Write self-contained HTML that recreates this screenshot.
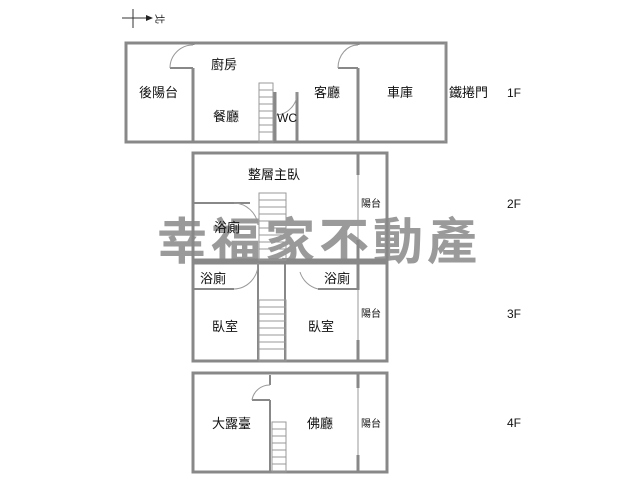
<!DOCTYPE html>
<html><head><meta charset="utf-8"><style>
html,body{margin:0;padding:0;background:#fff;width:640px;height:480px;overflow:hidden}
svg{display:block}
text{font-family:"Liberation Sans","Noto Sans CJK TC",sans-serif;fill:#111}
</style></head><body>
<svg width="640" height="480" viewBox="0 0 640 480">
<text x="157" y="259" font-size="50" font-weight="bold" letter-spacing="4" style="fill:#888;fill-opacity:0.85">幸福家不動產</text>
<g stroke="#888" fill="none" stroke-width="3">
<!-- 1F -->
<rect x="126" y="43" width="320" height="99"/>
<line x1="193" y1="43" x2="193" y2="45"/>
<line x1="193" y1="68" x2="193" y2="142" />
<line x1="358" y1="43" x2="358" y2="45"/>
<line x1="358" y1="68" x2="358" y2="142"/>
<line x1="275" y1="92" x2="275" y2="142"/>
<line x1="297" y1="92" x2="297" y2="142"/>
<line x1="170" y1="68" x2="193" y2="68" stroke-width="2"/>
<line x1="338" y1="68" x2="358" y2="68" stroke-width="2"/>
<!-- 2F -->
<rect x="193" y="153" width="194" height="107"/>
<line x1="193" y1="203" x2="250" y2="203" stroke-width="2"/>
<line x1="358" y1="153" x2="358" y2="175"/>
<line x1="358" y1="240" x2="358" y2="260"/>
<!-- 3F -->
<rect x="193" y="263" width="194" height="98"/>
<line x1="258" y1="263" x2="258" y2="361" stroke-width="2"/>
<line x1="285" y1="263" x2="285" y2="361" stroke-width="2"/>
<line x1="193" y1="289" x2="234" y2="289" stroke-width="2"/>
<line x1="318" y1="289" x2="358" y2="289" stroke-width="2"/>
<line x1="358" y1="263" x2="358" y2="290"/>
<line x1="358" y1="340" x2="358" y2="361"/>
<!-- 4F -->
<rect x="193" y="373" width="194" height="99"/>
<line x1="270" y1="375" x2="270" y2="385" stroke-width="2"/>
<line x1="270" y1="400" x2="270" y2="472" stroke-width="2"/>
<line x1="252" y1="400" x2="270" y2="400" stroke-width="2"/>
<line x1="358" y1="373" x2="358" y2="388"/>
<line x1="358" y1="455" x2="358" y2="472"/>
</g>
<g stroke="#999" fill="none" stroke-width="1">
<line x1="445" y1="43" x2="445" y2="142"/>
<line x1="358" y1="175" x2="358" y2="240"/>
<line x1="358" y1="290" x2="358" y2="340"/>
<line x1="358" y1="388" x2="358" y2="455"/>
<path d="M193 45 A23 23 0 0 0 170 68"/>
<path d="M358 45 A20 23 0 0 0 338 68"/>
<path d="M297 92 A22 22 0 0 1 275 115"/>
<path d="M270 385 A18 18 0 0 0 252 400"/>
<path d="M234 203 A25 25 0 0 1 258 225"/>
<path d="M234 289 A25 25 0 0 0 258 263"/>
<path d="M318 289 A25 25 0 0 1 300 272"/>
<rect x="259" y="83" width="14" height="59"/>
<rect x="259" y="193" width="27" height="67"/>
<rect x="259" y="300" width="27" height="61"/>
<rect x="272" y="422" width="14" height="50"/>
<path d="M259 90h14M259 97h14M259 104h14M259 111h14M259 118h14M259 125h14M259 132h14"/>
<path d="M259 200h27M259 207h27M259 214h27M259 221h27M259 228h27M259 235h27M259 242h27M259 249h27"/>
<path d="M259 307h27M259 314h27M259 321h27M259 328h27M259 335h27M259 342h27M259 349h27"/>
<path d="M272 429h14M272 436h14M272 443h14M272 450h14M272 457h14M272 464h14"/>
</g>
<g stroke="#333" stroke-width="1"><line x1="122" y1="18" x2="152" y2="18"/><line x1="133" y1="9" x2="133" y2="28"/></g>
<polygon points="146,15 153,18 146,21" fill="#222"/>
<text x="156" y="22" font-size="10" transform="rotate(90 160 18)">北</text>
<g font-size="13">
<text x="139" y="97">後陽台</text>
<text x="211" y="69">廚房</text>
<text x="213" y="121">餐廳</text>
<text x="277" y="122" font-size="12">WC</text>
<text x="314" y="97">客廳</text>
<text x="387" y="97">車庫</text>
<text x="449" y="97">鐵捲門</text>
<text x="248" y="179">整層主臥</text>
<text x="214" y="232">浴廁</text>
<text x="200" y="283">浴廁</text>
<text x="324" y="283">浴廁</text>
<text x="212" y="331">臥室</text>
<text x="308" y="331">臥室</text>
<text x="212" y="428">大露臺</text>
<text x="307" y="428">佛廳</text>
<text x="507" y="97" font-size="12">1F</text>
<text x="507" y="208" font-size="12">2F</text>
<text x="507" y="318" font-size="12">3F</text>
<text x="507" y="427" font-size="12">4F</text>
</g>
<g font-size="10"><text x="361" y="207">陽台</text><text x="361" y="317">陽台</text><text x="361" y="427">陽台</text></g>
</svg>
</body></html>
